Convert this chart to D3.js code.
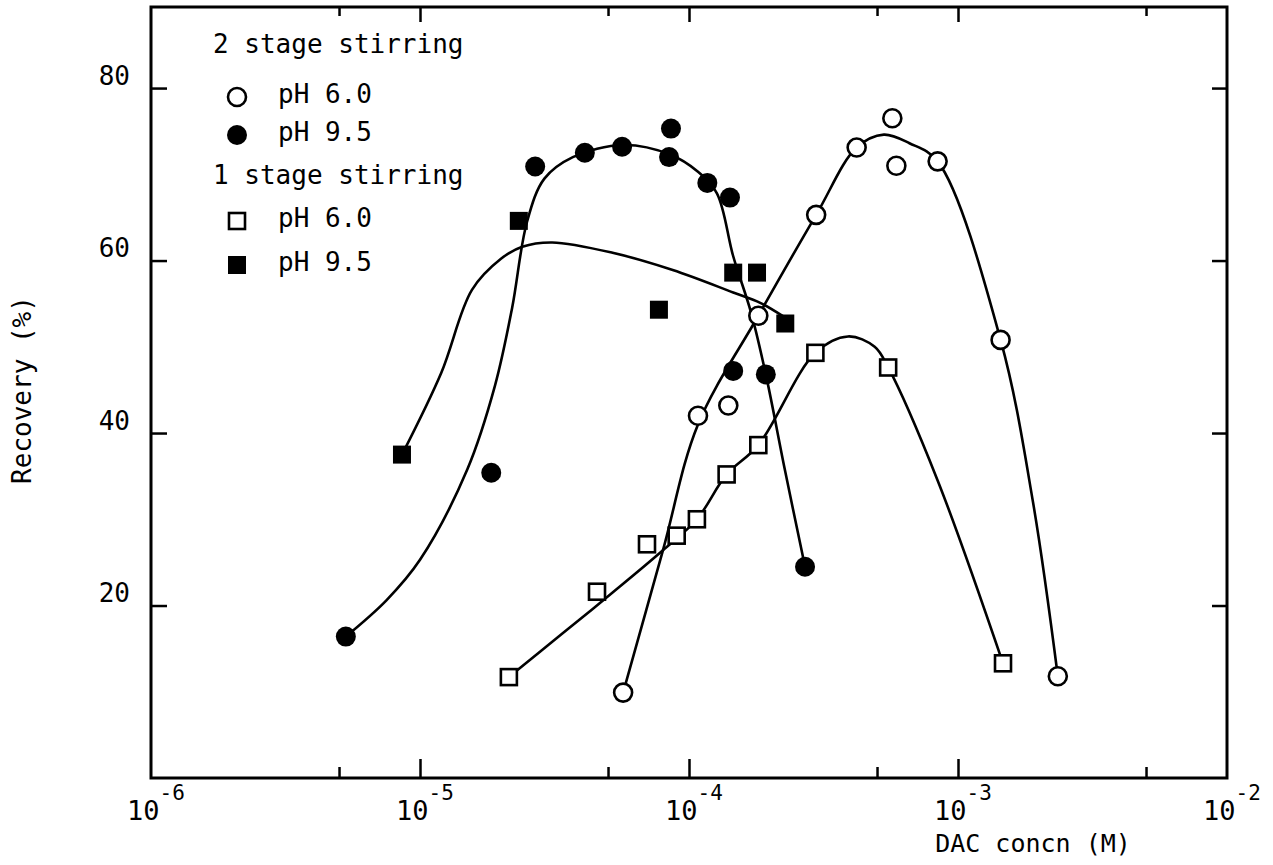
<!DOCTYPE html>
<html>
<head>
<meta charset="utf-8">
<script src="https://cdn.jsdelivr.net/npm/d3@7"></script>
<style>
  body { margin: 0; background: #fff; }
  text { font-family: "DejaVu Sans Mono", monospace; fill: #000; }
</style>
</head>
<body>
<div id="chart"></div>
<script>
// measured points [DAC concn (M), recovery %]
const twoStagePH6 = [[5.69e-5, 9.9], [1.08e-4, 42.0], [1.40e-4, 43.2], [1.81e-4, 53.6], [2.97e-4, 65.3],
  [4.2e-4, 73.1], [5.7e-4, 76.5], [5.9e-4, 71.0], [8.4e-4, 71.5], [1.44e-3, 50.8], [2.35e-3, 11.8]];
const twoStagePH95 = [[5.3e-6, 16.4], [1.84e-5, 35.4], [2.68e-5, 70.9], [4.1e-5, 72.5], [5.64e-5, 73.2],
  [8.57e-5, 75.3], [8.43e-5, 72.0], [1.17e-4, 69.0], [1.42e-4, 67.3], [1.46e-4, 47.2], [1.93e-4, 46.8], [2.7e-4, 24.5]];
const oneStagePH6 = [[2.14e-5, 11.7], [4.55e-5, 21.6], [6.98e-5, 27.1], [9.0e-5, 28.1], [1.07e-4, 30.0],
  [1.38e-4, 35.2], [1.81e-4, 38.6], [2.95e-4, 49.3], [5.5e-4, 47.6], [1.47e-3, 13.3]];
const oneStagePH95 = [[8.57e-6, 37.5], [2.33e-5, 64.6], [7.73e-5, 54.3], [1.46e-4, 58.6], [1.79e-4, 58.6], [2.28e-4, 52.7]];

// hand drawn fitted curves
const fitTwoPH6 = [[5.69e-5, 9.9], [8e-5, 26.4], [1.08e-4, 41], [1.81e-4, 53.6], [2.97e-4, 65.3], [4.2e-4, 73.1],
  [5.3e-4, 74.6], [6.6e-4, 73.6], [8.4e-4, 71.5], [1.44e-3, 50.8], [1.9e-3, 32], [2.35e-3, 11.8]];
const fitTwoPH95 = [[5.3e-6, 16.4], [7.5e-6, 20.6], [1e-5, 25.3], [1.5e-5, 35.8], [1.9e-5, 45.5], [2.2e-5, 54.5],
  [2.5e-5, 64.5], [2.9e-5, 69.5], [3.7e-5, 72], [5.7e-5, 73.4], [8.5e-5, 72.3], [1.08e-4, 70.3], [1.27e-4, 67.8],
  [1.46e-4, 60.5], [1.7e-4, 54], [1.93e-4, 46.8], [2.28e-4, 35.5], [2.7e-4, 24.5]];
const fitOnePH6 = [[2.14e-5, 11.7], [3.4e-5, 16.8], [5.2e-5, 21.5], [8e-5, 26.4], [1.07e-4, 30], [1.38e-4, 35.2],
  [1.81e-4, 38.6], [2.95e-4, 49.3], [3.9e-4, 51.2], [4.9e-4, 50], [5.5e-4, 47.6], [8.4e-4, 34.5], [1.47e-3, 13.3]];
const fitOnePH95 = [[8.57e-6, 37.5], [1.2e-5, 47], [1.56e-5, 56.6], [2.0e-5, 60.2], [2.4e-5, 61.6], [3.1e-5, 62.1],
  [5.2e-5, 60.9], [8.7e-5, 58.9], [1.46e-4, 56.3], [1.84e-4, 55.1], [2.25e-4, 53.5]];

// axis ticks and labels
const xMajor = [1e-6, 1e-5, 1e-4, 1e-3, 1e-2];
const xExponents = ["-6", "-5", "-4", "-3", "-2"];
const xMinor = [5e-6, 5e-5, 5e-4, 5e-3];
const yTicks = [20, 40, 60, 80];

const legendRows = [
  {label: "2 stage stirring"},
  {label: "pH 6.0", shape: "circle", filled: false},
  {label: "pH 9.5", shape: "circle", filled: true},
  {label: "1 stage stirring"},
  {label: "pH 6.0", shape: "square", filled: false},
  {label: "pH 9.5", shape: "square", filled: true}
];

const svgWidth = 1273;
const svgHeight = 865;
const plot = {left: 151, right: 1227, top: 7, bottom: 778};

const svg = d3.select("#chart")
  .append("svg")
  .attr("width", svgWidth)
  .attr("height", svgHeight);

const x = d3.scaleLog()
  .domain([1e-6, 1e-2])
  .range([plot.left, plot.right]);

const y = d3.scaleLinear()
  .domain([0, 89.4])
  .range([plot.bottom, plot.top]);

// ticks, all pointing inward
function tickGroup(axis, tx, ty) {
  const g = svg.append("g")
    .attr("transform", `translate(${tx}, ${ty})`)
    .call(axis);
  g.select(".domain").remove();
  g.selectAll(".tick line").attr("stroke", "#000").attr("stroke-width", 2.5);
  return g;
}

tickGroup(d3.axisBottom(x).tickValues(xMajor.slice(1, 4)).tickSize(-19).tickFormat(""), 0, plot.bottom);
tickGroup(d3.axisBottom(x).tickValues(xMinor).tickSize(-11).tickFormat(""), 0, plot.bottom);
tickGroup(d3.axisTop(x).tickValues(xMajor.slice(1, 4)).tickSize(-15).tickFormat(""), 0, plot.top);
tickGroup(d3.axisTop(x).tickValues(xMinor).tickSize(-9).tickFormat(""), 0, plot.top);
tickGroup(d3.axisRight(y).tickValues(yTicks).tickSize(-15).tickFormat(""), plot.right, 0);

const yAxis = tickGroup(d3.axisLeft(y).tickValues(yTicks).tickSize(-16).tickPadding(21), plot.left, 0);
yAxis.selectAll(".tick text")
  .attr("dy", -4)
  .style("font-size", "26px")
  .style("font-family", "DejaVu Sans Mono, monospace");

// frame
svg.append("rect")
  .attr("x", plot.left)
  .attr("y", plot.top)
  .attr("width", plot.right - plot.left)
  .attr("height", plot.bottom - plot.top)
  .attr("fill", "none")
  .attr("stroke", "#000")
  .attr("stroke-width", 3);

// x tick labels: 10 with superscript exponent
xMajor.forEach((v, i) => {
  const t = svg.append("text")
    .attr("x", x(v) + 5)
    .attr("y", 820)
    .attr("text-anchor", "middle");
  t.append("tspan")
    .style("font-size", "27px")
    .text("10");
  t.append("tspan")
    .attr("dy", -20)
    .style("font-size", "21px")
    .text(xExponents[i]);
});

svg.append("text")
  .attr("x", 1033)
  .attr("y", 852)
  .attr("text-anchor", "middle")
  .style("font-size", "25px")
  .text("DAC concn (M)");

svg.append("text")
  .attr("transform", `translate(31, 390) rotate(-90)`)
  .attr("text-anchor", "middle")
  .style("font-size", "26px")
  .text("Recovery (%)");

// fitted curves
const line = d3.line()
  .x(d => x(d[0]))
  .y(d => y(d[1]))
  .curve(d3.curveCatmullRom.alpha(0.5));

[fitTwoPH6, fitTwoPH95, fitOnePH6, fitOnePH95].forEach(fit => {
  svg.append("path")
    .datum(fit)
    .attr("d", line)
    .attr("fill", "none")
    .attr("stroke", "#000")
    .attr("stroke-width", 2.6);
});

// markers
function drawMarker(g, shape, filled, cx, cy) {
  if (shape === "circle") {
    g.append("circle")
      .attr("cx", cx)
      .attr("cy", cy)
      .attr("r", filled ? 10 : 9)
      .attr("fill", filled ? "#000" : "#fff")
      .attr("stroke", "#000")
      .attr("stroke-width", filled ? 0 : 2.6);
  } else {
    const s = filled ? 18 : 16;
    g.append("rect")
      .attr("x", cx - s / 2)
      .attr("y", cy - s / 2)
      .attr("width", s)
      .attr("height", s)
      .attr("fill", filled ? "#000" : "#fff")
      .attr("stroke", "#000")
      .attr("stroke-width", filled ? 0 : 2.6);
  }
}

const markers = svg.append("g");
const seriesList = [
  {data: twoStagePH6, shape: "circle", filled: false},
  {data: twoStagePH95, shape: "circle", filled: true},
  {data: oneStagePH6, shape: "square", filled: false},
  {data: oneStagePH95, shape: "square", filled: true}
];
seriesList.forEach(s => {
  s.data.forEach(d => drawMarker(markers, s.shape, s.filled, x(d[0]), y(d[1])));
});

// legend
const legendBaselines = [53, 103, 141, 184, 227, 271];
const legend = svg.append("g");
legendRows.forEach((row, i) => {
  const base = legendBaselines[i];
  if (!row.shape) {
    legend.append("text")
      .attr("x", 213)
      .attr("y", base)
      .style("font-size", "26px")
      .text(row.label);
  } else {
    drawMarker(legend, row.shape, row.filled, 237, base - 6);
    legend.append("text")
      .attr("x", 278)
      .attr("y", base)
      .style("font-size", "26px")
      .text(row.label);
  }
});
</script>
</body>
</html>
